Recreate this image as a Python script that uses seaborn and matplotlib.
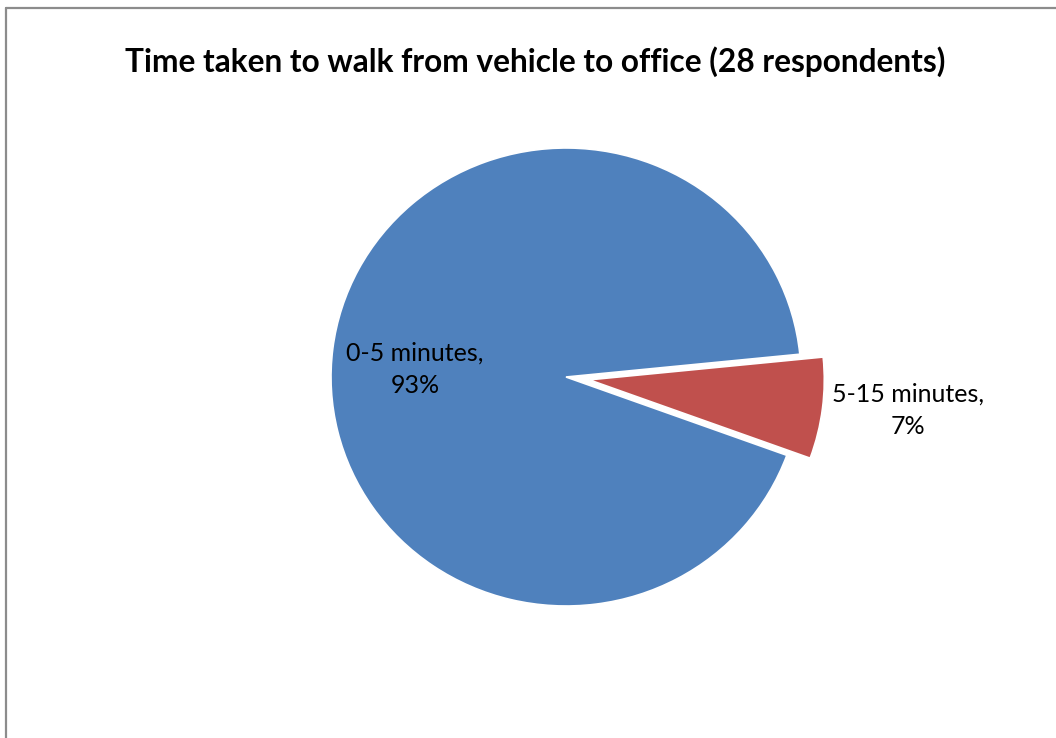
import matplotlib
matplotlib.use("Agg")
import matplotlib.pyplot as plt
import seaborn as sns

# Survey answers: walking time from vehicle to office (28 respondents)
categories = ["0-5 minutes", "5-15 minutes"]
counts = [26, 2]
percent_labels = ["93%", "7%"]
title = "Time taken to walk from vehicle to office (28 respondents)"

sns.set_theme(style="white")
plt.rcParams["font.family"] = ["Lato", "DejaVu Sans"]

colors = ["#4F81BD", "#C0504D"]

W, H, DPI = 1056, 738, 100
fig = plt.figure(figsize=(W / DPI, H / DPI), dpi=DPI)
fig.patch.set_facecolor("white")

# Pie area (pixel geometry of the plot box)
cx, cy, rx, ry = 566, 377, 235, 229
lim = 1.25
ax_w, ax_h = 2 * lim * rx, 2 * lim * ry
ax = fig.add_axes([(cx - ax_w / 2) / W, (H - cy - ax_h / 2) / H, ax_w / W, ax_h / H])

wedges, _ = ax.pie(
    counts,
    colors=colors,
    startangle=-20,
    counterclock=False,
    explode=[0, 0.1],
    wedgeprops=dict(edgecolor="white", linewidth=1.2),
)
ax.set_aspect("auto")
ax.set_xlim(-lim, lim)
ax.set_ylim(-lim, lim)

label_pos = [(-0.643, 0.035), (1.455, -0.144)]
for cat, pct, (x, y) in zip(categories, percent_labels, label_pos):
    ax.text(x, y, f"{cat},\n{pct}", ha="center", va="center",
            fontsize=18, color="black", linespacing=1.5)

fig.text(535 / W, 1 - 61.5 / H, title, ha="center", va="center",
         fontsize=22.8, fontweight="bold", color="black")

# Chart frame (left and top edges)
fig.add_artist(plt.Line2D([5.5 / W, 5.5 / W], [0, 1 - 7.5 / H], color="#8C8C8C",
                          linewidth=1.6, transform=fig.transFigure))
fig.add_artist(plt.Line2D([5.5 / W, 1], [1 - 7.5 / H, 1 - 7.5 / H], color="#8C8C8C",
                          linewidth=1.6, transform=fig.transFigure))

fig.savefig("out.png", dpi=DPI)
